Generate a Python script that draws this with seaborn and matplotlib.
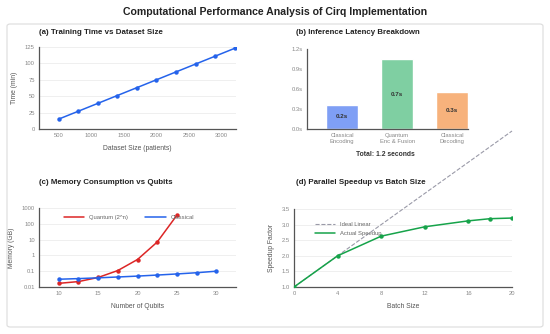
import numpy as np
import pandas as pd
import matplotlib
matplotlib.use("Agg")
import matplotlib.pyplot as plt
from matplotlib.patches import FancyBboxPatch
import seaborn as sns

# (a) training time
dataset_size = [500, 800, 1100, 1400, 1700, 2000, 2300, 2600, 2900, 3200]
train_time = [15, 27, 39, 51, 63, 75, 87, 99, 111, 123]

# (b) inference latency
stages = ['Classical\nEncoding', 'Quantum\nEnc & Fusion', 'Classical\nDecoding']
latency_bar = [0.36, 1.05, 0.55]
latency_label = ['0.2s', '0.7s', '0.3s']
bar_colors = ['#7f9ff5', '#7fcfa2', '#f7b27c']

# (c) memory
qubits_q = [10, 12.5, 15, 17.5, 20, 22.5, 25]
mem_quantum = [0.017, 0.022, 0.04, 0.11, 0.55, 7, 350]
qubits_c = [10, 12.5, 15, 17.5, 20, 22.5, 25, 27.5, 30]
mem_classical = [0.031, 0.034, 0.038, 0.043, 0.049, 0.057, 0.067, 0.08, 0.1]

# (d) speedup
batch_ideal = [0, 4, 8, 12, 16, 20]
speedup_ideal = [1, 2, 3, 4, 5, 6]
batch_actual = [0, 4, 8, 12, 16, 18, 20]
speedup_actual = [1.0, 2.0, 2.63, 2.93, 3.12, 3.19, 3.21]

sns.set_theme(style="white")
plt.rcParams['font.family'] = ['Liberation Sans', 'DejaVu Sans']

W, H = 550, 334
fig = plt.figure(figsize=(5.5, 3.34), dpi=100)

def box(l, r, t, b):
    return [l / W, 1 - b / H, (r - l) / W, (b - t) / H]

# light rounded frame around panels
fig.patches.append(FancyBboxPatch((7 / W, 1 - 327 / H), 536 / W, 303 / H,
                                  boxstyle="round,pad=0,rounding_size=0.006",
                                  transform=fig.transFigure, fill=False,
                                  edgecolor='#dcdcdc', linewidth=0.8))

fig.text(0.5, 1 - 12 / H, 'Computational Performance Analysis of Cirq Implementation',
         ha='center', va='center', fontsize=7.6, fontweight='bold', color='#222222')

tick_col = '#888888'
lab_col = '#555555'

def style(ax):
    sns.despine(ax=ax)
    for s in ['left', 'bottom']:
        ax.spines[s].set_color('#555555')
        ax.spines[s].set_linewidth(0.9)
    ax.tick_params(axis='both', length=0, labelsize=4.2, labelcolor=tick_col, pad=3)
    ax.yaxis.grid(True, color='#ececec', linewidth=0.6)
    ax.set_axisbelow(True)

def title(x, y, s):
    fig.text(x / W, 1 - y / H, s, ha='left', va='center', fontsize=5.7,
             fontweight='bold', color='#222222')

# (a)
ax1 = fig.add_axes(box(39, 236, 47, 129))
sns.lineplot(x=dataset_size, y=train_time, ax=ax1, color='#2563eb', linewidth=1.1,
             marker='o', markersize=3.2, markeredgewidth=0)
ax1.set_xlim(200, 3220)
ax1.set_ylim(0, 125)
ax1.set_xticks([500, 1000, 1500, 2000, 2500, 3000])
ax1.set_yticks([0, 25, 50, 75, 100, 125])
ax1.set_xlabel('Dataset Size (patients)', fontsize=4.9, color=lab_col, labelpad=5)
ax1.set_ylabel('Time (min)', fontsize=4.9, color=lab_col, labelpad=5)
style(ax1)
title(39, 32, '(a) Training Time vs Dataset Size')

# (b)
ax2 = fig.add_axes(box(307, 468, 49, 129))
df_b = pd.DataFrame({'stage': stages, 'latency': latency_bar})
sns.barplot(data=df_b, x='stage', y='latency', hue='stage', palette=bar_colors,
            legend=False, width=0.58, saturation=1, ax=ax2)
for p, lab in zip(ax2.patches, latency_label):
    ax2.text(p.get_x() + p.get_width() / 2, p.get_height() / 2, lab, ha='center',
             va='center', fontsize=4.5, fontweight='bold', color='#333333')
ax2.set_xlim(-0.64, 2.29)
ax2.set_ylim(0, 1.2)
ax2.set_yticks([0, 0.3, 0.6, 0.9, 1.2])
ax2.set_yticklabels(['0.0s', '0.3s', '0.6s', '0.9s', '1.2s'])
ax2.set_xlabel('')
ax2.set_ylabel('')
style(ax2)
ax2.yaxis.grid(False)
fig.text(385 / W, 1 - 155 / H, 'Total: 1.2 seconds', ha='center', va='center',
         fontsize=4.9, fontweight='bold', color='#333333')
title(296, 32, '(b) Inference Latency Breakdown')

# (c)
ax3 = fig.add_axes(box(39, 236, 208, 287))
sns.lineplot(x=qubits_q, y=mem_quantum, ax=ax3, color='#dc2626', linewidth=1.1,
             marker='o', markersize=3.2, markeredgewidth=0, label='Quantum (2^n)')
sns.lineplot(x=qubits_c, y=mem_classical, ax=ax3, color='#2563eb', linewidth=1.1,
             marker='o', markersize=3.2, markeredgewidth=0, label='Classical')
ax3.set_yscale('log')
ax3.set_ylim(0.01, 1000)
ax3.set_xlim(7.5, 32.5)
ax3.set_xticks([10, 15, 20, 25, 30])
ax3.set_yticks([0.01, 0.1, 1, 10, 100, 1000])
ax3.set_yticklabels(['0.01', '0.1', '1', '10', '100', '1000'])
ax3.minorticks_off()
ax3.set_xlabel('Number of Qubits', fontsize=4.9, color=lab_col, labelpad=5)
ax3.set_ylabel('Memory (GB)', fontsize=4.9, color=lab_col, labelpad=5)
style(ax3)
leg = ax3.legend(loc='upper left', bbox_to_anchor=(0.1, 0.98), ncol=2, frameon=False,
                 fontsize=4.2, handlelength=3.5, columnspacing=3, labelcolor='#666666')
for h in leg.legend_handles:
    h.set_marker('')
title(39, 182, '(c) Memory Consumption vs Qubits')

# (d)
ax4 = fig.add_axes(box(294, 512, 209, 287))
sns.lineplot(x=batch_ideal, y=speedup_ideal, ax=ax4, color='#9a9aa8', linewidth=0.8,
             linestyle='--', label='Ideal Linear', zorder=2)
ax4.lines[-1].set_clip_on(False)
sns.lineplot(x=batch_actual, y=speedup_actual, ax=ax4, color='#16a34a', linewidth=1.1,
             marker='o', markersize=3.2, markeredgewidth=0, label='Actual Speedup', zorder=3)
ax4.set_xlim(0, 20)
ax4.set_ylim(1.0, 3.5)
ax4.set_xticks([0, 4, 8, 12, 16, 20])
ax4.set_yticks([1.0, 1.5, 2.0, 2.5, 3.0, 3.5])
ax4.set_yticklabels(['1.0', '1.5', '2.0', '2.5', '3.0', '3.5'])
ax4.set_xlabel('Batch Size', fontsize=4.9, color=lab_col, labelpad=5)
ax4.set_ylabel('Speedup Factor', fontsize=4.9, color=lab_col, labelpad=5)
style(ax4)
leg = ax4.legend(loc='upper left', bbox_to_anchor=(0.07, 0.9), frameon=False,
                 fontsize=4.2, handlelength=3.5, labelcolor='#666666', labelspacing=0.7)
for h in leg.legend_handles:
    h.set_marker('')
title(296, 182, '(d) Parallel Speedup vs Batch Size')

fig.savefig('out.png', dpi=100)
